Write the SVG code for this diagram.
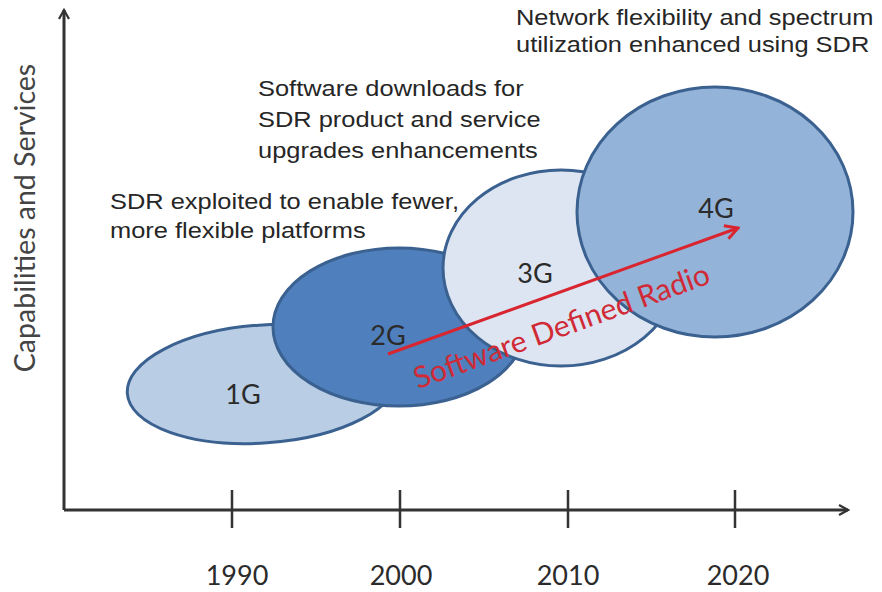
<svg xmlns="http://www.w3.org/2000/svg" width="882" height="592" viewBox="0 0 882 592">
  <defs>
    <marker id="axisHead" viewBox="0 0 12 12" refX="10" refY="6" markerWidth="12" markerHeight="12" markerUnits="userSpaceOnUse" orient="auto">
      <path d="M1,1 L10,6 L1,11" fill="none" stroke="#333" stroke-width="2.2"/>
    </marker>
    <marker id="sdrHead" viewBox="0 0 14 14" refX="12" refY="7" markerWidth="16" markerHeight="16" markerUnits="userSpaceOnUse" orient="auto">
      <path d="M1,1 L12,7 L1,13" fill="none" stroke="#d9252f" stroke-width="2.6"/>
    </marker>
  </defs>
  <style>
    .note { font-family: "Liberation Sans", Arial, sans-serif; font-size: 22.5px; fill: #262626; }
    .gen { font-family: Lato, "Open Sans", sans-serif; font-size: 27px; fill: #2b2b2b; text-anchor: middle; }
    .year { font-family: Lato, "Open Sans", sans-serif; font-size: 27px; fill: #2b2b2b; text-anchor: middle; }
    .axis { stroke: #333; stroke-width: 3; fill: none; }
    .tick { stroke: #333; stroke-width: 2.5; }
    .oval { stroke: #3a6190; stroke-width: 3; }
  </style>
  <rect width="882" height="592" fill="#ffffff"/>

  <!-- axes -->
  <g id="axes">
    <path class="axis" d="M64,510 L64,10" marker-end="url(#axisHead)"/>
    <path class="axis" d="M64,510 L848,510" marker-end="url(#axisHead)"/>
    <line class="tick" x1="232" y1="490" x2="232" y2="528"/>
    <line class="tick" x1="400" y1="490" x2="400" y2="528"/>
    <line class="tick" x1="568" y1="490" x2="568" y2="528"/>
    <line class="tick" x1="735" y1="490" x2="735" y2="528"/>
    <text class="year" x="237" y="585">1990</text>
    <text class="year" x="401" y="585">2000</text>
    <text class="year" x="568" y="585">2010</text>
    <text class="year" x="738" y="585">2020</text>
    <text font-family="Lato, 'Open Sans', sans-serif" font-size="28.5" fill="#444" text-anchor="middle" transform="translate(35,218) rotate(-90)">Capabilities and Services</text>
  </g>

  <!-- generations -->
  <g id="gen1">
    <ellipse class="oval" cx="263" cy="384" rx="136" ry="59" fill="#b9cde5" transform="rotate(-4 263 384)"/>
    <text class="gen" x="243" y="404">1G</text>
  </g>
  <g id="gen2">
    <ellipse class="oval" cx="399" cy="327" rx="126" ry="79" fill="#4f7fbc"/>
    <text class="gen" x="388" y="345">2G</text>
  </g>
  <g id="gen3">
    <ellipse class="oval" cx="561" cy="268" rx="118" ry="98" fill="#dce5f1"/>
    <text class="gen" x="535" y="283">3G</text>
  </g>
  <g id="gen4">
    <ellipse class="oval" cx="715" cy="212" rx="138" ry="125" fill="#94b3d9"/>
    <text class="gen" x="716" y="218">4G</text>
  </g>

  <!-- SDR trend arrow -->
  <g id="connectors">
    <line x1="388" y1="354" x2="738" y2="228" stroke="#d9252f" stroke-width="3" marker-end="url(#sdrHead)"/>
    <text font-family="Lato, 'Open Sans', sans-serif" font-size="30" fill="#d02a36" text-anchor="middle" transform="translate(565,336) rotate(-19.9)">Software Defined Radio</text>
  </g>

  <!-- annotations (Arial stretched horizontally) -->
  <g id="notes">
    <g transform="translate(516,0) scale(1.13,1)">
      <text class="note" x="0" y="25">Network flexibility and spectrum</text>
      <text class="note" x="0" y="52">utilization enhanced using SDR</text>
    </g>
    <g transform="translate(258,0) scale(1.13,1)">
      <text class="note" x="0" y="96">Software downloads for</text>
      <text class="note" x="0" y="127">SDR product and service</text>
      <text class="note" x="0" y="158">upgrades enhancements</text>
    </g>
    <g transform="translate(110,0) scale(1.13,1)">
      <text class="note" x="0" y="209">SDR exploited to enable fewer,</text>
      <text class="note" x="0" y="238">more flexible platforms</text>
    </g>
  </g>
</svg>
